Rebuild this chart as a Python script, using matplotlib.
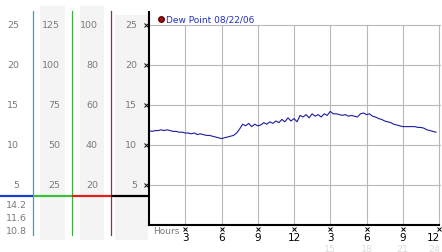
import matplotlib
matplotlib.use('Agg')
import matplotlib.pyplot as plt

# dew point readings, every 15 minutes from midnight
dew_point = [
    11.8, 11.7, 11.8, 11.8, 11.9, 11.8, 11.9, 11.8,
    11.7, 11.7, 11.6, 11.6, 11.5, 11.5, 11.4, 11.5,
    11.3, 11.4, 11.3, 11.2, 11.2, 11.1, 11.0, 10.9,
    10.8, 10.9, 11.0, 11.1, 11.2, 11.5, 12.0, 12.6,
    12.4, 12.7, 12.3, 12.6, 12.4, 12.5, 12.8, 12.6,
    12.9, 12.7, 13.0, 12.8, 13.2, 12.9, 13.4, 13.0,
    13.3, 12.9, 13.7, 13.5, 13.8, 13.4, 13.9, 13.6,
    13.8, 13.5, 13.9, 13.7, 14.2, 13.9, 13.9, 13.8,
    13.7, 13.8, 13.6, 13.7, 13.6, 13.5, 13.9, 14.0,
    13.8, 13.9, 13.6, 13.5, 13.3, 13.2, 13.0, 12.9,
    12.8, 12.6, 12.5, 12.4, 12.3, 12.3, 12.3, 12.3,
    12.3, 12.2, 12.2, 12.1, 11.9, 11.8, 11.7, 11.6,
]
hours = [i * 0.25 for i in range(len(dew_point))]

series_label = 'Dew Point 08/22/06'
y_ticks = [5, 10, 15, 20, 25]
scale_a = ['5', '10', '15', '20', '25']
scale_b = ['25', '50', '75', '100', '125']
scale_c = ['20', '40', '60', '80', '100']
scale_d = ['5', '10', '15', '20', '25']
stats = ['14.2', '11.6', '10.8']  # max, current, min

x_ticks = [3, 6, 9, 12, 15, 18, 21, 24]
x_labels = ['3', '6', '9', '12', '3', '6', '9', '12']
x_labels_24h = ['15', '18', '21', '24']

W, H = 442, 253
px = 8.0  # pixels per degree
y_top = 213 / px

fig = plt.figure(figsize=(W / 100, H / 100), dpi=100)
fig.patch.set_facecolor('white')

bottom = 27 / H
height = 213 / H

# left scale panel
side = fig.add_axes([0, bottom, 149 / W, height])
side.set_xlim(0, 149)
side.set_ylim(0, y_top)
side.axis('off')

grey = '#7a7a7a'
for x0, x1, ytop in [(40, 65, 27.4), (80, 104, 27.4), (115, 148, 26.3)]:
    side.fill_between([x0, x1], -1.9, ytop, color='#f4f4f4', lw=0, clip_on=False)

for xv, col in [(33, '#2aa7c8'), (72, '#40b040'), (111, '#b02828')]:
    side.plot([xv, xv], [-1.3, 26.75], color=col, lw=0.9, clip_on=False)

y_sep = 3.6
for x0, x1, col in [(0, 33, '#1a3fd0'), (33, 72, '#3cbf3c'),
                    (72, 111, '#e02020'), (111, 149, 'black')]:
    side.plot([x0, x1], [y_sep, y_sep], color=col, lw=1.6, solid_capstyle='butt',
              clip_on=False)

for yv, a, b, c, d in zip(y_ticks, scale_a, scale_b, scale_c, scale_d):
    side.text(19, yv, a, ha='right', va='center', color=grey, fontsize=6.8)
    side.text(60, yv, b, ha='right', va='center', color=grey, fontsize=6.8)
    side.text(98, yv, c, ha='right', va='center', color=grey, fontsize=6.8)
    side.text(137, yv, d, ha='right', va='center', color=grey, fontsize=6.8)

for yv, s in zip([2.6, 0.9, -0.75], stats):
    side.text(6, yv, s, ha='left', va='center', color=grey, fontsize=6.8, clip_on=False)

# main chart
ax = fig.add_axes([149 / W, bottom, 290 / W, height])
ax.patch.set_alpha(0)
ax.set_xlim(0, 24)
ax.set_ylim(0, y_top)
for s in ['top', 'right']:
    ax.spines[s].set_visible(False)
ax.spines['left'].set_linewidth(1.5)
ax.spines['bottom'].set_linewidth(1.5)
ax.spines['left'].set_zorder(5)
ax.spines['bottom'].set_zorder(5)
ax.set_xticks([])
ax.set_yticks([])

grid_c = '#b8b8b8'
for yv in y_ticks:
    ax.plot([0, 24.1], [yv, yv], color=grid_c, lw=0.8, clip_on=False, zorder=1)
for xv in x_ticks:
    ax.plot([xv, xv], [0, 25], color=grid_c, lw=0.8, clip_on=False, zorder=1)

ax.plot(hours, dew_point, color='#1c1ca0', lw=0.8, zorder=3)

# tick marks
ax.plot([-0.25] * len(y_ticks), y_ticks, 'x', color='black', ms=2.2, mew=0.7,
        clip_on=False)
ax.plot(x_ticks, [-0.5] * len(x_ticks), 'x', color='black', ms=2.2, mew=0.7,
        clip_on=False)

for xv, lab in zip(x_ticks, x_labels):
    if xv == x_ticks[-1]:
        ax.text(xv + 0.12, -1.5, lab, ha='right', va='center', color='black',
                fontsize=7.5, clip_on=False)
    else:
        ax.text(xv, -1.5, lab, ha='center', va='center', color='black',
                fontsize=7.5, clip_on=False)
for xv, lab in zip(x_ticks[4:], x_labels_24h):
    ha = 'right' if xv == x_ticks[-1] else 'center'
    off = 0.12 if xv == x_ticks[-1] else 0
    ax.text(xv + off, -3.0, lab, ha=ha, va='center', color='#dddddd', fontsize=6.8,
            clip_on=False)
ax.text(0.3, -0.75, 'Hours', ha='left', va='center', color=grey, fontsize=6.5,
        clip_on=False)

# legend
ax.plot([1.0], [25.75], 'o', color='#a01010', mec='#600000', ms=4, clip_on=False)
ax.text(1.4, 25.75, series_label, ha='left', va='center', color='#2030c0',
        fontsize=6.5, clip_on=False)

fig.savefig('out.png', dpi=100, facecolor='white')
